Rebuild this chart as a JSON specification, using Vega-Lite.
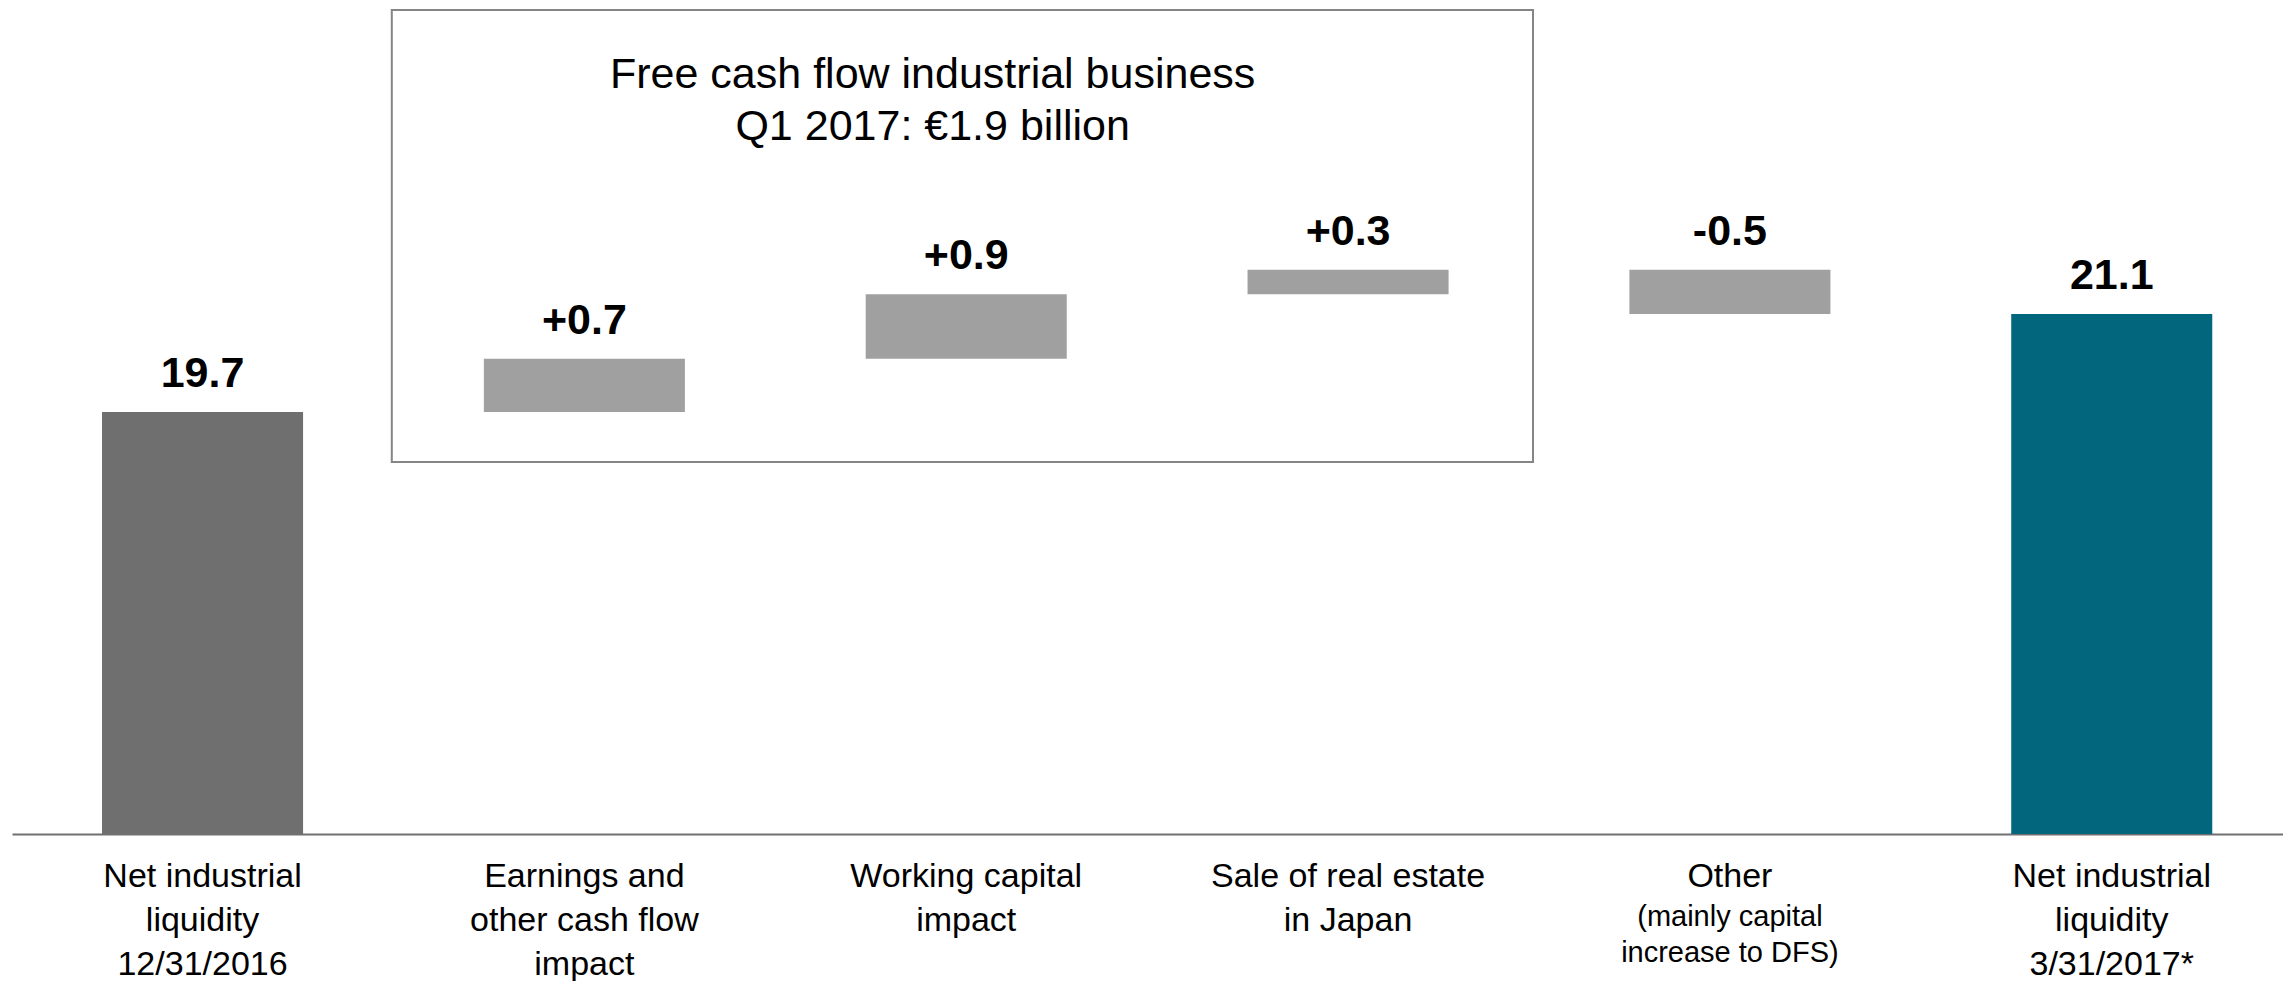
{
  "$schema": "https://vega.github.io/schema/vega-lite/v6.json",
  "width": 2271,
  "height": 834,
  "padding": {"left": 12, "top": 0, "right": 0, "bottom": 147},
  "autosize": {"type": "none"},
  "background": "white",
  "config": {"view": {"stroke": null}, "font": "Liberation Sans"},
  "datasets": {
    "steps": [
      {"cat": "Net industrial|liquidity|12/31/2016", "start": 0, "end": 19.7, "label": "19.7", "kind": "start"},
      {"cat": "Earnings and|other cash flow|impact", "start": 19.7, "end": 20.46, "label": "+0.7", "kind": "delta"},
      {"cat": "Working capital|impact", "start": 20.46, "end": 21.38, "label": "+0.9", "kind": "delta"},
      {"cat": "Sale of real estate|in Japan", "start": 21.38, "end": 21.73, "label": "+0.3", "kind": "delta"},
      {"cat": "Other", "start": 21.73, "end": 21.1, "label": "-0.5", "kind": "delta"},
      {"cat": "Net industrial|liquidity|3/31/2017*", "start": 0, "end": 21.1, "label": "21.1", "kind": "end"}
    ],
    "box": [
      {"from": "Earnings and|other cash flow|impact", "to": "Sale of real estate|in Japan", "lo": 18.985, "hi": 25.443}
    ],
    "heading": [
      {"t": "Free cash flow industrial business|Q1 2017: €1.9 billion", "at": "Working capital|impact", "v": 24.33}
    ],
    "notes": [
      {"cat": "Other", "note": "(mainly capital|increase to DFS)", "v": 13.671}
    ]
  },
  "layer": [
    {
      "data": {"name": "steps"},
      "mark": {"type": "bar"},
      "encoding": {
        "x": {
          "field": "cat", "type": "nominal", "sort": null,
          "scale": {
            "domain": ["Net industrial|liquidity|12/31/2016", "Earnings and|other cash flow|impact", "Working capital|impact", "Sale of real estate|in Japan", "Other", "Net industrial|liquidity|3/31/2017*"],
            "paddingInner": 0.4735, "paddingOuter": 0.2105, "align": 0.56
          },
          "axis": {
            "title": null, "ticks": false, "grid": false,
            "domainColor": "#707070", "domainWidth": 2,
            "labelExpr": "split(datum.label, '|')",
            "labelFont": "Liberation Sans", "labelFontSize": 34, "labelLineHeight": 44,
            "labelPadding": 52, "labelBaseline": "alphabetic", "labelColor": "#000000",
            "labelAngle": 0, "labelLimit": 0, "labelOverlap": false, "labelFlush": false
          }
        },
        "y": {
          "field": "start", "type": "quantitative",
          "scale": {"domain": [13.671, 25.585], "clamp": true, "zero": false, "nice": false},
          "axis": null
        },
        "y2": {"field": "end"},
        "color": {
          "field": "kind", "type": "nominal",
          "scale": {"domain": ["start", "delta", "end"], "range": ["#6f6f6f", "#a0a0a0", "#02677d"]},
          "legend": null
        }
      }
    },
    {
      "data": {"name": "box"},
      "mark": {"type": "rect", "filled": false, "stroke": "#858585", "strokeWidth": 2},
      "encoding": {
        "x": {"field": "from", "type": "nominal", "bandPosition": -0.458},
        "x2": {"field": "to", "bandPosition": 1.42},
        "y": {"field": "lo", "type": "quantitative"},
        "y2": {"field": "hi"}
      }
    },
    {
      "data": {"name": "steps"},
      "transform": [
        {"fold": ["start", "end"], "as": ["k", "v"]},
        {"aggregate": [{"op": "max", "field": "v", "as": "top"}], "groupby": ["cat", "label"]}
      ],
      "mark": {"type": "text", "fontSize": 43, "fontWeight": "bold", "baseline": "alphabetic", "align": "center", "dy": -25, "color": "#000000"},
      "encoding": {
        "x": {"field": "cat", "type": "nominal"},
        "y": {"field": "top", "type": "quantitative"},
        "text": {"field": "label"}
      }
    },
    {
      "data": {"name": "heading"},
      "mark": {"type": "text", "fontSize": 43, "lineBreak": "|", "lineHeight": 52, "baseline": "alphabetic", "align": "center", "color": "#000000"},
      "encoding": {
        "x": {"field": "at", "type": "nominal", "bandPosition": 0.333},
        "y": {"field": "v", "type": "quantitative"},
        "text": {"field": "t"}
      }
    },
    {
      "data": {"name": "notes"},
      "mark": {"type": "text", "fontSize": 29, "lineBreak": "|", "lineHeight": 36, "baseline": "alphabetic", "align": "center", "dy": 92, "color": "#000000"},
      "encoding": {
        "x": {"field": "cat", "type": "nominal"},
        "y": {"field": "v", "type": "quantitative"},
        "text": {"field": "note"}
      }
    }
  ]
}
